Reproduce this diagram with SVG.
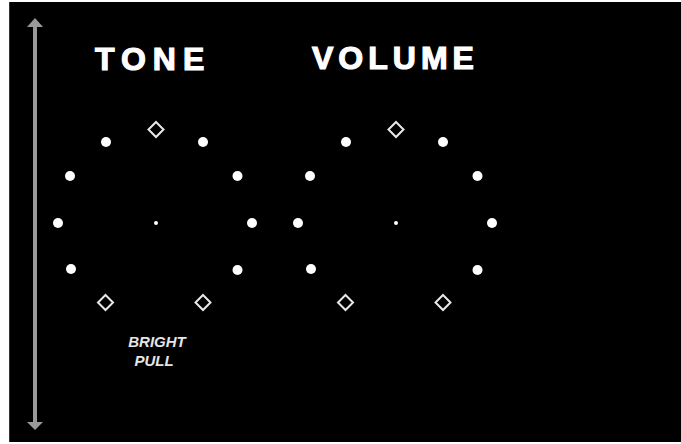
<svg xmlns="http://www.w3.org/2000/svg" width="681" height="444" viewBox="0 0 681 444">
  <style>
    .title { font-family: "Liberation Sans", Arial, sans-serif; font-weight: bold; font-size: 32px; fill: #ffffff; stroke: #ffffff; stroke-width: 1.2; }
    .label { font-family: "Liberation Sans", Arial, sans-serif; font-weight: bold; font-style: italic; font-size: 15px; fill: #e6e6e6; text-anchor: middle; }
    .dot { fill: #ffffff; }
    .dia { fill: none; stroke: #e8e8e8; stroke-width: 2; }
    .ctr { fill: #ffffff; }
    .axis { stroke: #9a9a9a; stroke-width: 4; fill: none; }
  </style>
  <defs>
    <g id="knob">
      <path class="dia" d="M0 -101 L7.5 -93.5 L0 -86 L-7.5 -93.5 Z"/>
      <circle class="dot" cx="-50" cy="-81" r="5"/>
      <circle class="dot" cx="47" cy="-81" r="5"/>
      <circle class="dot" cx="-86" cy="-47" r="5"/>
      <circle class="dot" cx="81.5" cy="-47" r="5"/>
      <circle class="dot" cx="-98" cy="0" r="5"/>
      <circle class="dot" cx="96" cy="0" r="5"/>
      <circle class="dot" cx="-85" cy="46" r="5"/>
      <circle class="dot" cx="81.5" cy="47" r="5"/>
      <path class="dia" d="M-50.5 72 L-43 79.5 L-50.5 87 L-58 79.5 Z"/>
      <path class="dia" d="M47 72 L54.5 79.5 L47 87 L39.5 79.5 Z"/>
      <circle class="ctr" cx="0" cy="0" r="2"/>
    </g>
  </defs>
  <rect x="0" y="0" width="681" height="444" fill="#ffffff"/>
  <rect x="9" y="2" width="672" height="440" fill="#000000"/>
  <line x1="9.5" y1="2" x2="9.5" y2="442" stroke="#333" stroke-width="1"/>

  <g id="connectors">
    <line class="axis" x1="35" y1="26" x2="35" y2="423"/>
    <path d="M35 18 L43 27 L27 27 Z" fill="#9a9a9a"/>
    <path d="M35 430 L43 422 L27 422 Z" fill="#9a9a9a"/>
  </g>

  <g id="tone">
    <text class="title" x="95" y="70" letter-spacing="7">TONE</text>
    <use href="#knob" transform="translate(156 223)"/>
  </g>

  <g id="volume">
    <text class="title" x="312" y="69" letter-spacing="5">VOLUME</text>
    <use href="#knob" transform="translate(396 223)"/>
  </g>

  <g id="bright-pull">
    <text class="label" x="157" y="347">BRIGHT</text>
    <text class="label" x="154" y="366">PULL</text>
  </g>
</svg>
